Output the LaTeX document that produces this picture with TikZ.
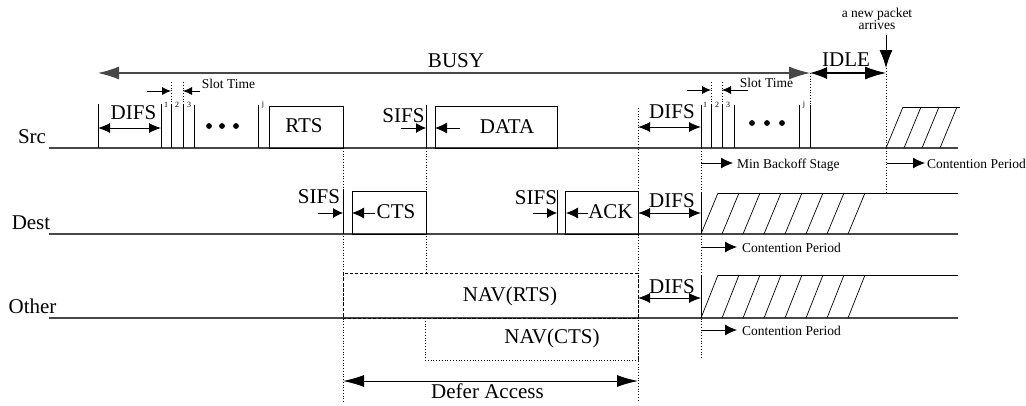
\documentclass[tikz,border=0pt]{standalone}
\usepackage{fontspec}
\setmainfont{Liberation Serif}
\usetikzlibrary{arrows.meta}
\begin{document}
\begin{tikzpicture}[x=1pt,y=-1pt,
  big/.style={font=\fontsize{21}{21}\selectfont, inner sep=0pt, anchor=base},
  small/.style={font=\fontsize{13.5}{14}\selectfont, inner sep=0pt, anchor=base},
  idx/.style={font=\fontsize{8}{8}\selectfont, inner sep=0pt, anchor=base},
  baseline/.style={line width=1.1pt, black!72},
  frame/.style={line width=0.9pt},
  hatch/.style={line width=0.7pt},
  guide/.style={line width=0.75pt, dotted},
  navrts/.style={line width=0.8pt, dash pattern=on 3pt off 2pt},
  navcts/.style={line width=0.8pt, dotted},
  dbl/.style={line width=1pt, {Latex[length=12pt,width=10pt]}-{Latex[length=12pt,width=10pt]}},
  longdbl/.style={line width=1.1pt, black!72, {Latex[length=21pt,width=13pt]}-{Latex[length=21pt,width=13pt]}, shorten <=0pt},
  pointer/.style={line width=0.8pt, -{Latex[length=10pt,width=10pt]}},
  slotptr/.style={line width=0.8pt, -{Latex[length=9pt,width=8pt]}},
  cptr/.style={line width=0.8pt, -{Latex[length=12pt,width=11pt]}},
]
\useasboundingbox (0,0) rectangle (1026,405);

% ---------- station time lines ----------
\draw[baseline] (49,148) -- (958,148);
\draw[baseline] (49,234) -- (958,234);
\draw[baseline] (49,318) -- (958,318);
\node[big] (lsrc)   at (32,143)   {Src};
\node[big] (ldest)  at (31,229)   {Dest};
\node[big] (lother) at (32.5,313) {Other};

% ---------- dotted guide lines ----------
\draw[guide] (343,148) -- (343,402);
\draw[guide] (426,148) -- (426,273);
\draw[guide] (638,108) -- (638,402);
\draw[guide] (701,148) -- (701,358);
\draw[guide] (886,68) -- (886,193);
\draw[guide] (810,73) -- (810,105);
\draw[guide] (171,82) -- (171,105);
\draw[guide] (183,82) -- (183,105);
\draw[guide] (711,82) -- (711,105);
\draw[guide] (722,82) -- (722,105);

% ---------- BUSY / IDLE ----------
\coordinate (busyL) at (98,73);
\coordinate (busyR) at (810,73);
\coordinate (idleR) at (886,73);
\draw[longdbl] (busyL) -- (busyR);
\node[big] (busy) at (456,67) {BUSY};
\draw[line width=1.1pt, {Latex[length=17pt,width=12pt]}-{Latex[length=21pt,width=13pt]}] (busyR) -- (idleR);
\node[big] (idle) at (846,66) {IDLE};
\node[small, align=center, anchor=south] (newpkt) at (877,30) {a new packet\\[-2pt]arrives};
\coordinate (arrTop) at (886,35);
\coordinate (arrBot) at (886,68);
\draw[line width=0.9pt, -{Latex[length=18pt,width=13pt]}] (arrTop) -- (arrBot);

% ---------- Src: first DIFS + backoff + RTS ----------
\draw[frame] (98,104) -- (98,148);
\draw[frame] (161,104) -- (161,148);
\foreach \x in {171,183,194,258} \draw[frame] (\x,105) -- (\x,148);
\draw[dbl] (98,128) -- (161,128);
\node[big] (difs1) at (133.5,119) {DIFS};
\node[idx] (n1a) at (166,107) {1};
\node[idx] (n2a) at (177,107) {2};
\node[idx] (n3a) at (189,107) {3};
\node[idx] (nja) at (263,106) {j};
\draw[slotptr] (147,91) -- (171,91);
\draw[slotptr] (200,91) -- (183,91);
\node[small] (slot1) at (228.5,88) {Slot Time};
\foreach \x in {209,222,236} \fill (\x,126) circle (2.9);
\draw[frame] (269,106) rectangle (343,148);
\node[big] (rts) at (304,132) {RTS};

% ---------- Src: SIFS + DATA ----------
\draw[frame] (426,105) -- (426,148);
\draw[pointer] (401,128) -- (426,128);
\node[big] (sifs1) at (403.5,122) {SIFS};
\draw[frame] (435,106) rectangle (557,148);
\draw[cptr] (460,128) -- (435,128);
\node[big] (data) at (507,133) {DATA};

% ---------- Src: second DIFS + backoff ----------
\draw[dbl] (638,127) -- (701,127);
\node[big] (difs2) at (672,118) {DIFS};
\foreach \x in {701,711,722,734,799,810} \draw[frame] (\x,105) -- (\x,148);
\node[idx] (n1b) at (705,107) {1};
\node[idx] (n2b) at (717,107) {2};
\node[idx] (n3b) at (728,107) {3};
\node[idx] (njb) at (804,106) {j};
\draw[slotptr] (687,90) -- (711,90);
\draw[slotptr] (748,90) -- (722,90);
\node[small] (slot2) at (766.5,87) {Slot Time};
\foreach \x in {752,767,782} \fill (\x,123) circle (2.9);
\draw[cptr] (701,163) -- (733,163);
\node[small, anchor=base west] (minbo) at (737,168) {Min Backoff Stage};

% ---------- Src: contention after new packet ----------
\draw[frame] (903,107) -- (960,107);
\foreach \i in {0,...,3} \draw[hatch] (886+18*\i,148) -- (903+18*\i,107);
\draw[cptr] (887,163) -- (925,163);
\node[small, anchor=base west] (cpsrc) at (927,168) {Contention Period};

% ---------- Dest: SIFS + CTS ----------
\draw[frame] (343,190) -- (343,234);
\draw[pointer] (318,213) -- (343,213);
\node[big] (sifs2) at (319,203) {SIFS};
\draw[frame] (352,191) rectangle (426,234);
\draw[cptr] (375,213) -- (352,213);
\node[big] (cts) at (396,218) {CTS};

% ---------- Dest: SIFS + ACK ----------
\draw[frame] (557,190) -- (557,234);
\draw[pointer] (533,213) -- (557,213);
\node[big] (sifs3) at (536,204) {SIFS};
\draw[frame] (565,191) rectangle (638,234);
\draw[cptr] (588,213) -- (566,213);
\node[big] (ack) at (610.5,218) {ACK};

% ---------- Dest: DIFS + contention ----------
\draw[frame] (701,193) -- (701,234);
\draw[dbl] (638,213) -- (701,213);
\node[big] (difs3) at (672,207) {DIFS};
\draw[frame] (718,193) -- (958,193);
\foreach \i in {0,...,7} \draw[hatch] (701+21*\i,234) -- (718+21*\i,193);
\draw[cptr] (701,247) -- (737,247);
\node[small, anchor=base west] (cpdest) at (742,252) {Contention Period};

% ---------- Other: NAV + DIFS + contention ----------
\draw[navrts] (343,273) rectangle (638,318);
\node[big] (navr) at (510,301) {NAV(RTS)};
\draw[navcts] (425,318) rectangle (638,360);
\node[big] (navc) at (552,343) {NAV(CTS)};
\draw[frame] (701,275) -- (701,318);
\draw[dbl] (638,298) -- (701,298);
\node[big] (difs4) at (672,293) {DIFS};
\draw[frame] (718,275) -- (958,275);
\foreach \i in {0,...,7} \draw[hatch] (701+21*\i,318) -- (718+21*\i,275);
\draw[cptr] (701,330) -- (737,330);
\node[small, anchor=base west] (cpother) at (742,335) {Contention Period};

% ---------- Defer access ----------
\coordinate (defL) at (343,381);
\coordinate (defR) at (638,381);
\draw[line width=1pt, {Latex[length=21pt,width=12pt]}-{Latex[length=21pt,width=12pt]}] (defL) -- (defR);
\node[big] (defer) at (487.5,398) {Defer Access};
\end{tikzpicture}
\end{document}
